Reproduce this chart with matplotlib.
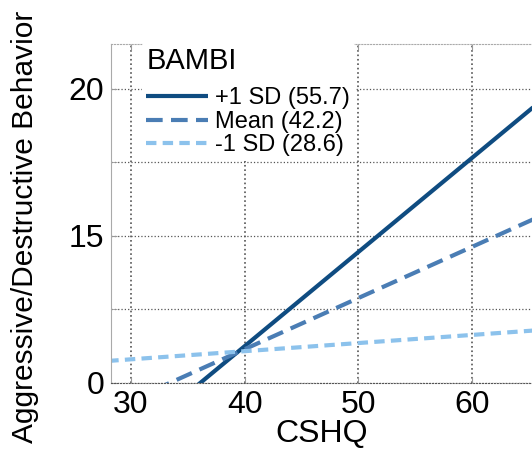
import matplotlib
matplotlib.use("Agg")
import matplotlib.pyplot as plt

plt.rcParams['font.family'] = ['Liberation Sans', 'DejaVu Sans']

# CSHQ range end points and predicted scores of each BAMBI level
cshq = [28, 66]
plus_sd = [7.41, 19.57]
mean = [9.06, 15.67]
minus_sd = [10.75, 11.80]

labels = ['+1 SD (55.7)', 'Mean (42.2)', '-1 SD (28.6)']
colors = ['#0f4c81', '#4a7db4', '#8cc2ec']

y_ticks = [10, 15, 20]
y_tick_labels = ['0', '15', '20']
x_ticks = [30, 40, 50, 60]

fig = plt.figure(figsize=(5.32, 4.51), dpi=100)
ax = fig.add_axes([0.2086, 0.1508, 0.7914, 0.7516])

ax.plot(cshq, plus_sd, color=colors[0], lw=3, label=labels[0], solid_capstyle='butt')
ax.plot(cshq, mean, color=colors[1], lw=3, ls=(0, (4, 2)), label=labels[1])
ax.plot(cshq, minus_sd, color=colors[2], lw=3, ls=(0, (2.5, 1.5)), label=labels[2])

ax.set_xlim(28.24, 65.3)
ax.set_ylim(10, 21.53)

ax.set_xticks(x_ticks)
ax.set_yticks(y_ticks)
ax.set_yticklabels(y_tick_labels)
ax.set_yticks([12.5, 17.5], minor=True)

ax.grid(True, which='major', axis='x', color='#555555', ls=':', lw=1.2)
ax.grid(True, which='both', axis='y', color='#555555', ls=':', lw=0.9)
ax.tick_params(axis='both', which='both', direction='in', length=4, color='#999999',
               labelsize=23, top=True)
ax.tick_params(axis='x', pad=5)
ax.tick_params(axis='y', pad=5)

for side in ['left', 'top']:
    ax.spines[side].set_color('#aaaaaa')
ax.spines['top'].set_linestyle(':')
ax.spines['bottom'].set_linestyle(':')
ax.spines['bottom'].set_color('#555555')
ax.spines['right'].set_visible(False)

ax.set_xlabel('CSHQ', fontsize=23, labelpad=-1)
ax.set_ylabel('Aggressive/Destructive Behavior', fontsize=21.5)
ax.yaxis.set_label_coords(-0.17, 0.46)

leg = ax.legend(title='BAMBI', loc='upper left', bbox_to_anchor=(0.045, 1.04),
                fontsize=17, title_fontsize=21, frameon=True, framealpha=1,
                edgecolor='none', handlelength=2.6, handletextpad=0.3,
                labelspacing=0.06, borderpad=0.2)
leg._legend_box.align = 'left'
leg._legend_box.sep = 9

fig.savefig('out.png', dpi=100)
